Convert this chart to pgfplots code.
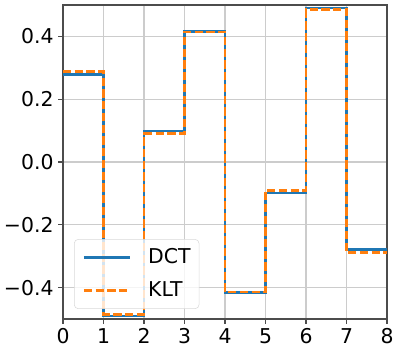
\documentclass[border=0pt]{standalone}
\usepackage{pgfplots}
\pgfplotsset{compat=1.18}
\usepackage{fontspec}
\setmainfont{DejaVu Sans}
\usetikzlibrary{calc}
\definecolor{mplblue}{HTML}{1F77B4}
\definecolor{mplorange}{HTML}{FF7F0E}
\begin{document}
\begin{tikzpicture}
\begin{axis}[
  name=ax,
  scale only axis,
  width=243pt, height=235.5pt,
  xmin=0, xmax=8, ymin=-0.5, ymax=0.5,
  xtick={0,1,2,3,4,5,6,7,8},
  ytick={-0.4,-0.2,0,0.2,0.4},
  yticklabels={−0.4,−0.2,0.0,0.2,0.4},
  /pgf/number format/assume math mode=true,
  tick label style={font=\fontsize{15.3}{17}\selectfont},
  grid=major,
  major grid style={color=black!20, line width=0.8pt},
  axis line style={color=black!70, line width=0.9pt},
  tick align=outside,
  xtick pos=bottom, ytick pos=left,
  major tick length=3.6pt,
  tick style={color=black!70, line width=0.8pt},
  legend cell align=left,
  legend style={at={(0.034,0.032)}, anchor=south west,
    font=\fontsize{15.3}{17}\selectfont,
    draw=black!15, fill=white, fill opacity=0.8, text opacity=1,
    rounded corners=3pt, inner xsep=6.3pt, inner ysep=6.75pt,
    nodes={inner sep=0pt, text height=11.5pt, text depth=2.5pt},
    row sep=10.5pt, column sep=12.75pt},
  legend image code/.code={\draw[#1] (0pt,0pt) -- (34.5pt,0pt);},
]
\addplot[const plot, mplblue, line width=1.9pt] coordinates {
  (0,0.278) (1,-0.490) (2,0.098) (3,0.416) (4,-0.416) (5,-0.098) (6,0.490) (7,-0.278) (8,-0.278)
};
\addlegendentry{DCT}
\addplot[const plot, mplorange, line width=1.9pt, dash pattern=on 6.2pt off 2.6pt] coordinates {
  (0,0.289) (1,-0.485) (2,0.090) (3,0.414) (4,-0.414) (5,-0.090) (6,0.485) (7,-0.289) (8,-0.289)
};
\addlegendentry{KLT}
\end{axis}
\pgfresetboundingbox
\path[use as bounding box] ([shift={(-47.25pt,-24.75pt)}]ax.south west) rectangle ([shift={(9pt,3.75pt)}]ax.north east);
\end{tikzpicture}
\end{document}
